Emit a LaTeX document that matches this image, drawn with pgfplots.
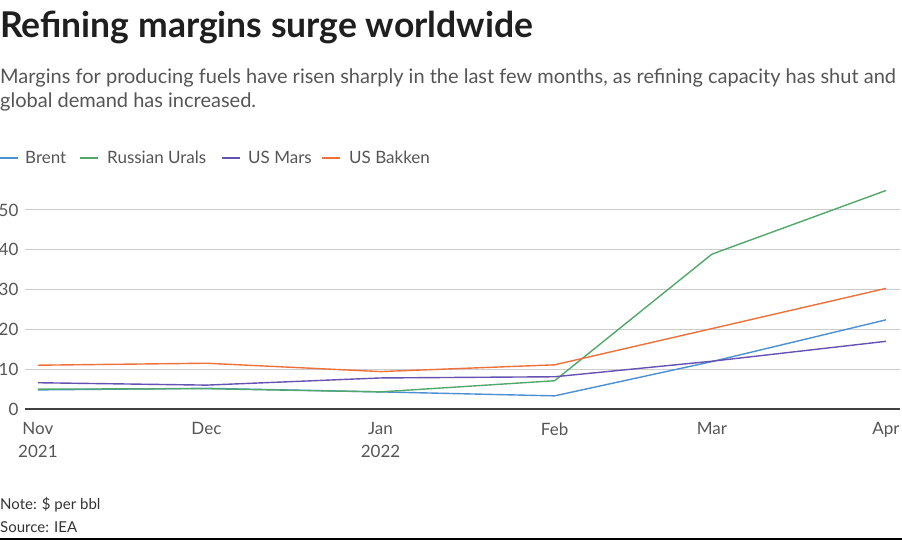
\documentclass[border=0pt]{standalone}
\usepackage{pgfplots}
\pgfplotsset{compat=1.18}
\usepackage{fontspec}
\setmainfont{Lato}
\definecolor{brent}{HTML}{4A90D2}
\definecolor{urals}{HTML}{52A86C}
\definecolor{mars}{HTML}{6552B2}
\definecolor{bakken}{HTML}{F0703A}
\definecolor{txtgrey}{HTML}{555555}
\definecolor{gridgrey}{HTML}{CCCCCC}
\begin{document}
\begin{tikzpicture}[x=1pt,y=1pt]
\useasboundingbox (0pt,0pt) rectangle (902pt,-540pt);
% title and subtitle
\node[anchor=base west, inner sep=0, text=black!88] at (0pt,-38pt) {\fontsize{35.5}{38}\selectfont\bfseries Refining margins surge worldwide};
\node[anchor=base west, inner sep=0, text=txtgrey] at (0pt,-84pt) {\fontsize{20}{23}\selectfont Margins for producing fuels have risen sharply in the last few months, as refining capacity has shut and};
\node[anchor=base west, inner sep=0, text=txtgrey] at (0pt,-108pt) {\fontsize{20}{23}\selectfont global demand has increased.};
% legend
\draw[brent, line width=1.4pt] (0pt,-158pt) -- (18pt,-158pt);
\node[anchor=base west, inner sep=0, text=txtgrey] at (25pt,-164pt) {\fontsize{17}{20}\selectfont Brent};
\draw[urals, line width=1.4pt] (80pt,-158pt) -- (98pt,-158pt);
\node[anchor=base west, inner sep=0, text=txtgrey] at (107pt,-164pt) {\fontsize{17}{20}\selectfont Russian Urals};
\draw[mars, line width=1.4pt] (222pt,-158pt) -- (240pt,-158pt);
\node[anchor=base west, inner sep=0, text=txtgrey] at (248pt,-164pt) {\fontsize{17}{20}\selectfont US Mars};
\draw[bakken, line width=1.4pt] (322pt,-158pt) -- (340pt,-158pt);
\node[anchor=base west, inner sep=0, text=txtgrey] at (349pt,-164pt) {\fontsize{17}{20}\selectfont US Bakken};
% notes
\node[anchor=base west, inner sep=0, text=black!80] at (0pt,-509pt) {\fontsize{15}{18}\selectfont Note: \$ per bbl};
\node[anchor=base west, inner sep=0, text=black!80] at (0pt,-532pt) {\fontsize{15}{18}\selectfont Source: IEA};
\draw[black, line width=2pt] (0pt,-539pt) -- (902pt,-539pt);
\begin{axis}[
  at={(25pt,-409pt)}, anchor=south west,
  scale only axis, width=875pt, height=222.9pt,
  xmin=-2.3, xmax=153.5, ymin=0, ymax=56,
  axis lines*=left,
  y axis line style={draw=none},
  x axis line style={draw=black!75, line width=1.3pt},
  major tick length=0pt,
  ytick={0,10,20,30,40,50},
  ymajorgrids, grid style={gridgrey, line width=1pt},
  xtick={0,30,61,92,120,151},
  xticklabels={{Nov\\2021},Dec,{Jan\\2022},Feb,Mar,Apr},
  /pgf/number format/assume math mode=true,
  ticklabel style={text=txtgrey, font=\fontsize{17}{23}\selectfont},
  xticklabel style={align=center, yshift=-10pt},
  yticklabel style={xshift=-3pt},
  clip=false,
  every axis plot/.append style={line width=1.4pt, mark=none},
]
\addplot[brent] coordinates {(0,4.8) (30,5.2) (61,4.3) (92,3.3) (120,11.9) (151,22.4)};
\addplot[urals] coordinates {(0,5.0) (30,5.1) (61,4.3) (92,7.1) (120,38.9) (151,54.9)};
\addplot[mars] coordinates {(0,6.6) (30,6.0) (61,7.8) (92,8.1) (120,12.0) (151,17.0)};
\addplot[bakken] coordinates {(0,11.0) (30,11.5) (61,9.4) (92,11.1) (120,20.2) (151,30.3)};
\end{axis}
\end{tikzpicture}
\end{document}
